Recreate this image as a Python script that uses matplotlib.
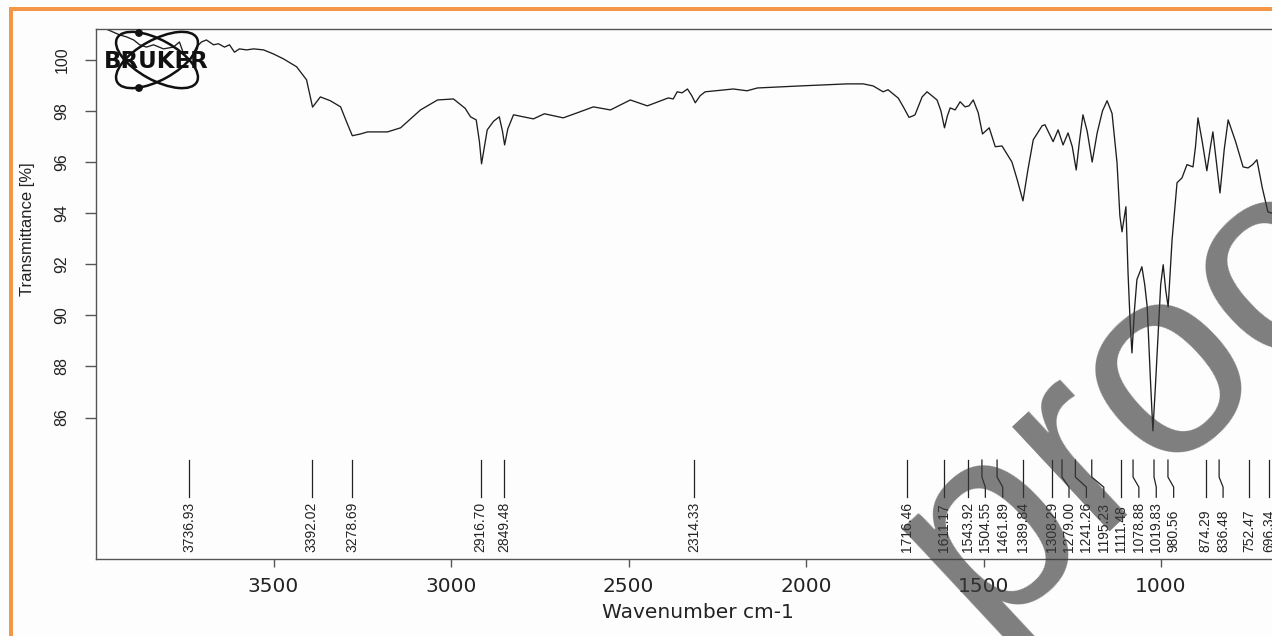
import matplotlib
matplotlib.use('Agg')
import matplotlib.pyplot as plt
from matplotlib.patches import Ellipse, Rectangle, Circle
import matplotlib.transforms as mtransforms

# spectrum (wavenumber cm-1, transmittance %)
wavenumber = [3998, 3970, 3934, 3914, 3894, 3877, 3858, 3838, 3810, 3782, 3765, 3753,
              3736, 3717, 3703, 3689, 3669, 3655, 3638, 3624, 3610, 3596, 3576, 3556,
              3528, 3500, 3472, 3435, 3407, 3390, 3368, 3340, 3311, 3295, 3278, 3255,
              3235, 3179, 3142, 3086, 3038, 2993, 2960, 2945, 2929, 2920, 2914, 2906,
              2898, 2880, 2864, 2855, 2849, 2840, 2824, 2768, 2737, 2684, 2640, 2599,
              2551, 2495, 2447, 2388, 2374, 2363, 2349, 2334, 2322, 2312, 2298, 2284,
              2205, 2166, 2137, 2016, 1884, 1839, 1811, 1783, 1769, 1740, 1726, 1710,
              1700, 1693, 1673, 1659, 1631, 1620, 1610, 1602, 1594, 1580, 1566, 1552,
              1541, 1529, 1515, 1503, 1484, 1467, 1448, 1420, 1405, 1389, 1375, 1360,
              1335, 1327, 1304, 1290, 1276, 1262, 1250, 1239, 1230, 1220, 1208, 1194,
              1180, 1165, 1152, 1138, 1124, 1116, 1110, 1099, 1093, 1087, 1082, 1075,
              1068, 1054, 1046, 1039, 1030, 1023, 1016, 1009, 1001, 994, 987, 980,
              969, 955, 941, 927, 910, 903, 896, 884, 871, 862, 854, 844,
              834, 822, 811, 790, 769, 755, 742, 730, 715, 699, 688]
transmittance = [101.25, 101.2, 100.98, 100.9, 100.78, 100.59, 100.5, 100.59, 100.43, 100.5, 100.7, 100.23,
                 100.0, 100.5, 100.7, 100.78, 100.59, 100.63, 100.5, 100.59, 100.3, 100.43, 100.39, 100.43,
                 100.39, 100.23, 100.04, 99.73, 99.22, 98.15, 98.55, 98.4, 98.16, 97.6, 97.03, 97.1,
                 97.18, 97.18, 97.34, 98.04, 98.43, 98.47, 98.1, 97.77, 97.65, 96.8, 95.93, 96.6,
                 97.26, 97.6, 97.77, 97.2, 96.67, 97.3, 97.85, 97.69, 97.89, 97.73, 97.95, 98.16,
                 98.04, 98.43, 98.2, 98.51, 98.47, 98.75, 98.71, 98.86, 98.6, 98.32, 98.6, 98.75,
                 98.86, 98.79, 98.9, 98.98, 99.06, 99.06, 98.98, 98.75, 98.83, 98.5, 98.16, 97.75,
                 97.8, 97.85, 98.55, 98.75, 98.43, 98.0, 97.34, 97.8, 98.12, 98.04, 98.36, 98.16,
                 98.2, 98.43, 97.93, 97.1, 97.34, 96.6, 96.63, 96.0, 95.3, 94.48, 95.7, 96.87,
                 97.42, 97.46, 96.8, 97.26, 96.67, 97.14, 96.6, 95.69, 96.8, 97.85, 97.2, 96.0,
                 97.14, 98.0, 98.4, 97.9, 95.97, 93.9, 93.27, 94.25, 91.66, 89.7, 88.53, 90.2,
                 91.4, 91.9, 91.2, 90.33, 87.5, 85.48, 87.2, 89.04, 91.2, 91.98, 91.0, 90.33,
                 92.95, 95.19, 95.38, 95.9, 95.81, 96.6, 97.73, 96.8, 95.66, 96.5, 97.18, 96.0,
                 94.79, 96.5, 97.65, 96.8, 95.81, 95.77, 95.9, 96.09, 95.0, 94.05, 94.0]

peaks = [3736.93, 3392.02, 3278.69, 2916.70, 2849.48, 2314.33, 1716.46, 1611.17,
         1543.92, 1504.55, 1461.89, 1389.84, 1308.29, 1279.00, 1241.26, 1195.23,
         1111.48, 1078.88, 1019.83, 980.56, 874.29, 836.48, 752.47, 696.34]

xticks = [3500, 3000, 2500, 2000, 1500, 1000]
yticks = [86, 88, 90, 92, 94, 96, 98, 100]

W, H = 1272, 636
fig = plt.figure(figsize=(W / 100, H / 100), dpi=100)
fig.patch.set_facecolor('#fdfdfd')

# axes box in pixels: left 96, right past edge, top 29, bottom 559
ax = fig.add_axes([96 / W, 1 - 559.3 / H, (W - 96) / W, 530.6 / H])
ax.set_facecolor('none')
ax.plot(wavenumber, transmittance, color='#1e1e1e', lw=0.95)
ax.set_xlim(4000, 687.5)
ax.set_ylim(80.45, 101.22)

for s in ['top', 'left', 'bottom']:
    ax.spines[s].set_color('#555555')
    ax.spines[s].set_linewidth(1.0)
ax.spines['right'].set_visible(False)

ax.set_xticks(xticks)
ax.set_xticklabels([str(t) for t in xticks], fontsize=14.5, family='DejaVu Sans', color='#222222')
ax.set_yticks(yticks)
ax.set_yticklabels([str(t) for t in yticks], fontsize=11.5, family='Liberation Sans',
                   rotation=90, va='center', color='#222222')
ax.tick_params(axis='x', direction='out', length=6, width=1, color='#555555', pad=7)
ax.tick_params(axis='y', direction='out', length=8, width=1, color='#555555', pad=11)

ax.set_xlabel('Wavenumber cm-1', fontsize=14.5, family='DejaVu Sans', color='#222222', va='center')
ax.xaxis.set_label_coords((698 - 96) / (W - 96), -(613 - 559.3) / 530.6)
ax.set_ylabel('Transmittance [%]', fontsize=12, family='Liberation Sans', color='#222222', va='center')
ax.yaxis.set_label_coords(-(96 - 28) / (W - 96), (559.3 - 229) / 530.6)

# peak labels, spread apart when too close
trans = mtransforms.blended_transform_factory(ax.transData, ax.transAxes)
prev = None
for p in peaks:
    pos = p if prev is None else min(p, prev - 49)
    prev = pos
    ax.plot([p, p, pos, pos], [0.187, 0.155, 0.136, 0.117], transform=trans,
            color='#222222', lw=0.9, clip_on=False)
    ax.text(pos, 0.0138, '%.2f' % p, transform=trans, rotation=90, ha='center', va='bottom',
            fontsize=10, family='Liberation Sans', color='#222222', clip_on=False)

# overlay in pixel coordinates: border, logo, watermark
ov = fig.add_axes([0, 0, 1, 1])
ov.set_xlim(0, W)
ov.set_ylim(H, 0)
ov.axis('off')
ov.patch.set_alpha(0)

orange = '#f59646'
ov.add_patch(Rectangle((9, 7), W - 9, 4, color=orange, lw=0))
ov.add_patch(Rectangle((9, 7), 4, H - 7, color=orange, lw=0))

# Bruker logo
ov.add_patch(Ellipse((157, 60), 91, 40, angle=29, fill=False, ec='#111111', lw=1.8))
ov.add_patch(Ellipse((157, 60), 91, 40, angle=-29, fill=False, ec='#111111', lw=1.8))
ov.add_patch(Circle((139, 33), 3.2, color='#111111'))
ov.add_patch(Circle((139, 88), 3.2, color='#111111'))
ov.text(156, 61, 'BRUKER', ha='center', va='center', fontsize=16.5, fontweight='bold',
        family='DejaVu Sans', color='#111111')

# watermark
ov.text(982, 634, 'proof', rotation=43, rotation_mode='anchor', ha='left', va='baseline',
        fontsize=195, family='Liberation Sans', color='#3a3a3a', alpha=0.65)

fig.savefig('out.png', dpi=100, facecolor=fig.get_facecolor())
